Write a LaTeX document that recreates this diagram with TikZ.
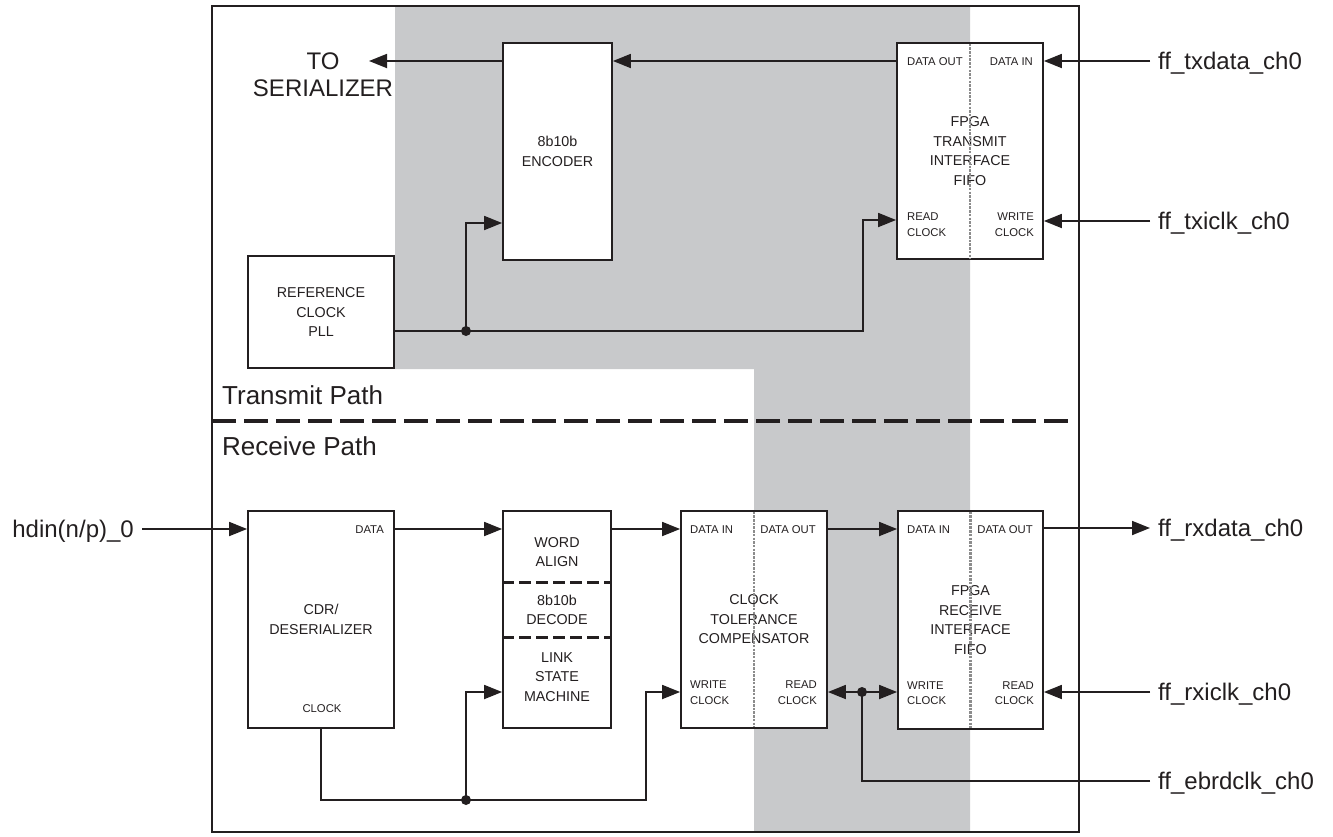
\documentclass[tikz,border=0pt]{standalone}
\usepackage{fontspec}
\setmainfont{Liberation Sans}
\usetikzlibrary{arrows.meta}
\definecolor{bggray}{RGB}{200,201,203}
\definecolor{ink}{RGB}{35,31,32}
\definecolor{divgray}{RGB}{140,140,140}

\begin{document}
\begin{tikzpicture}[
    x=1pt, y=-1pt,
    every node/.style={
        text=ink,
        align=center,
        inner sep=0pt
    },
    block/.style={draw=ink, line width=1.8pt, fill=white, font=\fontsize{14.3}{19.5}\selectfont},
    section/.style={font=\fontsize{14.3}{19.5}\selectfont},
    port/.style={font=\fontsize{11.3}{15.5}\selectfont},
    signal/.style={font=\fontsize{24}{27}\selectfont, inner xsep=8pt, text depth=0pt},
    pathname/.style={font=\fontsize{26}{30}\selectfont, anchor=west},
    wire/.style={draw=ink, line width=1.8pt},
    arrow/.style={wire, -{Triangle[length=18pt,width=14pt]}},
    sepdash/.style={draw=ink, line width=3pt, dash pattern=on 12pt off 5pt},
    divider/.style={draw=divgray, line width=2.5pt, dash pattern=on 2.5pt off 1.2pt}
]

\fill[white] (0,0) rectangle (1333,836);
\useasboundingbox (0,0) rectangle (1333,836);
\fill[bggray] (395,6) -- (970,6) -- (970,832) -- (754,832) -- (754,369) -- (395,369) -- cycle;
\draw[wire] (212,6) rectangle (1079,832);

\draw[draw=ink, line width=3.5pt, dash pattern=on 24pt off 8pt] (212,421) -- (1072,421);
\node[pathname] (txpath) at (222,395) {Transmit Path};
\node[pathname] (rxpath) at (222,446) {Receive Path};

% transmit path
\node[block, minimum width=109pt, minimum height=217pt] (enc) at (557.5,151.5) {8b10b\\ENCODER};
\node[block, minimum width=146pt, minimum height=216pt] (txfifo) at (970,151) {FPGA\\TRANSMIT\\INTERFACE\\FIFO};
\node[block, minimum width=146pt, minimum height=112pt] (pll) at (321,312) {REFERENCE\\CLOCK\\PLL};

\node[port, anchor=west] (txdout) at (907,62) {DATA OUT};
\node[port, anchor=east] (txdin) at (1033,62) {DATA IN};
\node[port, anchor=west, align=left] (txrclk) at (907,224.5) {READ\\CLOCK};
\node[port, anchor=east, align=right] (txwclk) at (1034,224.5) {WRITE\\CLOCK};
\draw[divider] ([yshift=-1.5pt]txfifo.north) -- ([yshift=1.5pt]txfifo.south);

\coordinate (toser) at (369,61);
\node[signal, inner xsep=0pt] (tosertxt) at (323,74.5) {TO\\SERIALIZER};
\draw[arrow] (txfifo.west |- 0,61) -- (enc.east |- 0,61);
\draw[arrow] (enc.west |- toser) -- (toser);

\node[signal, anchor=west] (txdata) at (1150,61) {ff\_txdata\_ch0};
\node[signal, anchor=west] (txiclk) at (1150,221) {ff\_txiclk\_ch0};
\draw[arrow] (txdata.west) -- (txdata.west -| txfifo.east);
\draw[arrow] (txiclk.west) -- (txiclk.west -| txfifo.east);

\coordinate (pllj) at (466,331);
\draw[wire] (pll.east |- pllj) -- (pllj);
\draw[arrow] (pllj) |- (enc.west |- 0,223);
\draw[arrow] (pllj) -| (863,220) -- (txfifo.west |- 0,220);
\fill[ink] (pllj) circle (5pt);

% receive path
\node[block, minimum width=146pt, minimum height=217pt] (cdr) at (321,619.5) {CDR/\\DESERIALIZER};
\node[block, minimum width=108pt, minimum height=217pt] (wa) at (557,619.5) {};
\node[block, minimum width=146pt, minimum height=217pt] (ctc) at (754,619.5) {CLOCK\\TOLERANCE\\COMPENSATOR};
\node[block, minimum width=145pt, minimum height=218pt] (rxfifo) at (970.5,620) {FPGA\\RECEIVE\\INTERFACE\\FIFO};

\node[section] (waword) at (557,552) {WORD\\ALIGN};
\node[section] (wadec) at (557,610) {8b10b\\DECODE};
\node[section] (walsm) at (557,677) {LINK\\STATE\\MACHINE};
\draw[sepdash] (wa.west |- 0,582) -- (wa.east |- 0,582);
\draw[sepdash] (wa.west |- 0,637) -- (wa.east |- 0,637);

\node[port, anchor=east] (cdrdata) at (384,530) {DATA};
\node[port] (cdrclk) at (322,709) {CLOCK};

\node[port, anchor=west] (ctcdin) at (690,530) {DATA IN};
\node[port, anchor=east] (ctcdout) at (816,530) {DATA OUT};
\node[port, anchor=west, align=left] (ctcwclk) at (690,692.5) {WRITE\\CLOCK};
\node[port, anchor=east, align=right] (ctcrclk) at (817,692.5) {READ\\CLOCK};
\draw[divider] ([yshift=-1.5pt]ctc.north) -- ([yshift=1.5pt]ctc.south);

\node[port, anchor=west] (rxdin) at (907,530) {DATA IN};
\node[port, anchor=east] (rxdout) at (1033,530) {DATA OUT};
\node[port, anchor=west, align=left] (rxwclk) at (907,693) {WRITE\\CLOCK};
\node[port, anchor=east, align=right] (rxrclk) at (1034,693) {READ\\CLOCK};
\draw[divider] ([yshift=-1.5pt]rxfifo.north) -- ([yshift=1.5pt]rxfifo.south);

\node[signal, anchor=east] (hdin) at (142,529) {hdin(n/p)\_0};
\draw[arrow] (hdin.east) -- (hdin.east -| cdr.west);
\draw[arrow] (cdr.east |- 0,529) -- (wa.west |- 0,529);
\draw[arrow] (wa.east |- 0,529) -- (ctc.west |- 0,529);
\draw[arrow] (ctc.east |- 0,529) -- (rxfifo.west |- 0,529);

\node[signal, anchor=west] (rxdata) at (1150,528) {ff\_rxdata\_ch0};
\node[signal, anchor=west] (rxiclk) at (1150,692) {ff\_rxiclk\_ch0};
\node[signal, anchor=west] (ebrd) at (1150,781) {ff\_ebrdclk\_ch0};
\draw[arrow] (rxfifo.east |- rxdata.west) -- (rxdata.west);
\draw[arrow] (rxiclk.west) -- (rxiclk.west -| rxfifo.east);

\coordinate (ebj) at (862,692);
\draw[wire] (ebrd.west) -| (ebj);
\draw[arrow] (ebj) -- (ctc.east |- ebj);
\draw[arrow] (ebj) -- (rxfifo.west |- ebj);
\fill[ink] (ebj) circle (5pt);

\coordinate (cdrj) at (466,800);
\draw[wire] (cdr.south) |- (cdrj);
\draw[arrow] (cdrj) |- (wa.west |- 0,692);
\draw[arrow] (cdrj) -| (646,692) -- (ctc.west |- 0,692);
\fill[ink] (cdrj) circle (5pt);

\end{tikzpicture}
\end{document}
